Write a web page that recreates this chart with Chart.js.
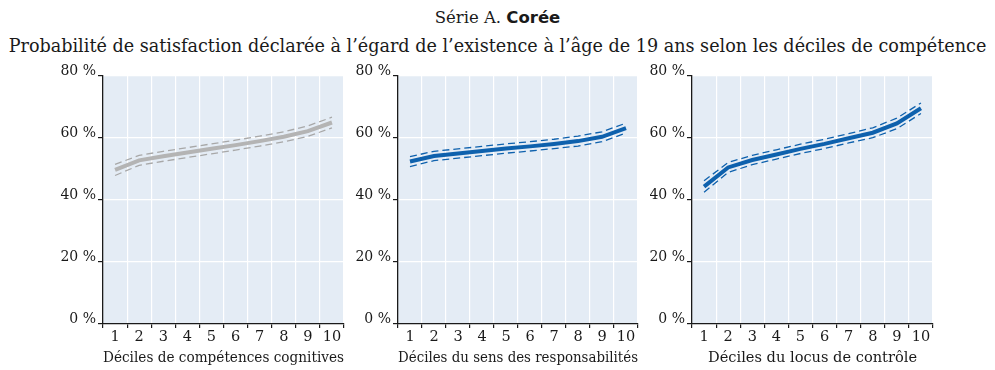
<!DOCTYPE html>
<html lang="fr">
<head>
<meta charset="utf-8">
<title>Série A. Corée</title>
<script src="https://cdn.jsdelivr.net/npm/chart.js@4/dist/chart.umd.min.js"></script>
<style>
  html, body { margin: 0; padding: 0; background: #fff; }
  body { width: 995px; height: 370px; position: relative; overflow: hidden; font-family: "DejaVu Serif", serif; color: #1a1a1a; }
  .serie { position: absolute; top: 8px; left: 0; width: 995px; text-align: center; font-size: 16.5px; }
  .serie b { font-family: "DejaVu Sans", sans-serif; }
  .titre { position: absolute; top: 36px; left: 0; width: 995px; text-align: center; font-size: 17.6px; white-space: nowrap; }
  .panel { position: absolute; top: 60px; height: 310px; }
</style>
</head>
<body>
<div class="serie">Série A. <b>Corée</b></div>
<div class="titre">Probabilité de satisfaction déclarée à l’égard de l’existence à l’âge de 19 ans selon les déciles de compétence</div>

<div class="panel" style="left:0;width:352px"><canvas id="cognitives"></canvas></div>
<div class="panel" style="left:350px;width:310px"><canvas id="responsabilites"></canvas></div>
<div class="panel" style="left:650px;width:345px"><canvas id="locus"></canvas></div>

<script>
// Déciles (axe des x) et graduations de l'axe des y
const deciles = ['1', '2', '3', '4', '5', '6', '7', '8', '9', '10'];
const yTicks = [0, 20, 40, 60, 80];

// Compétences cognitives : probabilité estimée et intervalle de confiance (%)
const cognitivesMoy = [49.7, 52.8, 54.1, 55.3, 56.5, 57.7, 59.0, 60.4, 62.2, 65.0];
const cognitivesHaut = [51.5, 54.4, 55.7, 56.9, 58.1, 59.3, 60.6, 62.0, 63.9, 66.7];
const cognitivesBas = [47.9, 51.2, 52.5, 53.7, 54.9, 56.1, 57.4, 58.8, 60.5, 63.3];

// Sens des responsabilités
const responsMoy = [52.4, 54.2, 55.0, 55.8, 56.6, 57.3, 58.1, 59.0, 60.4, 63.2];
const responsHaut = [54.0, 55.7, 56.5, 57.3, 58.1, 58.8, 59.6, 60.6, 62.0, 64.8];
const responsBas = [50.8, 52.7, 53.5, 54.3, 55.1, 55.8, 56.6, 57.4, 58.8, 61.6];

// Locus de contrôle
const locusMoy = [44.3, 50.5, 52.9, 54.7, 56.5, 58.1, 59.9, 61.7, 64.7, 69.6];
const locusHaut = [46.2, 52.1, 54.4, 56.2, 58.0, 59.6, 61.4, 63.3, 66.4, 71.3];
const locusBas = [42.5, 48.9, 51.4, 53.2, 55.0, 56.6, 58.4, 60.1, 63.0, 67.9];

const GRIS = '#b4b4b4';
const GRIS_TIRETS = '#a8a8a8';
const BLEU = '#0e61ad';
const FOND = '#e4ecf5';
const TEXTE = '#1a1a1a';
const POLICE = 'DejaVu Serif';

// fond bleu clair de la zone de tracé
const fondZone = {
  id: 'fondZone',
  beforeDraw(chart) {
    const a = chart.chartArea;
    const ctx = chart.ctx;
    ctx.save();
    ctx.fillStyle = FOND;
    ctx.fillRect(a.left, a.top, a.right - a.left, a.bottom - a.top);
    ctx.restore();
  }
};

function makePanel(id, titre, moy, haut, bas, couleur, couleurTirets, largeurY, margeDroite) {
  const dashed = (data) => ({
    data: data,
    borderColor: couleurTirets,
    borderWidth: 1.3,
    borderDash: [7, 4],
    pointRadius: 0,
    fill: false,
    tension: 0
  });
  new Chart(document.getElementById(id), {
    type: 'line',
    data: {
      labels: deciles,
      datasets: [
        dashed(haut),
        dashed(bas),
        {
          data: moy,
          borderColor: couleur,
          borderWidth: 4,
          pointRadius: 0,
          fill: false,
          tension: 0
        }
      ]
    },
    options: {
      responsive: true,
      maintainAspectRatio: false,
      animation: false,
      layout: { padding: { top: 16, right: margeDroite, bottom: 0, left: 0 } },
      plugins: {
        legend: { display: false },
        tooltip: { enabled: false }
      },
      scales: {
        x: {
          offset: true,
          grid: { offset: true, color: '#ffffff', lineWidth: 1.2, tickColor: TEXTE, tickLength: 4 },
          border: { color: TEXTE, width: 1.3 },
          ticks: { color: TEXTE, font: { family: POLICE, size: 14.5 }, padding: 1, maxRotation: 0, autoSkip: false },
          title: { display: true, text: titre, color: TEXTE, font: { family: POLICE, size: 14.6 }, padding: { top: 0, bottom: 3 } },
          afterFit(scale) { scale.height = 46; }
        },
        y: {
          min: 0,
          max: 80,
          afterBuildTicks(scale) { scale.ticks = yTicks.map(v => ({ value: v })); },
          grid: { color: '#ffffff', lineWidth: 1.2, tickColor: TEXTE, tickLength: 5 },
          border: { color: TEXTE, width: 1.3 },
          ticks: {
            color: TEXTE,
            font: { family: POLICE, size: 14 },
            padding: 2,
            labelOffset: -5,
            callback: (v) => v + ' %'
          },
          afterFit(scale) { scale.width = largeurY; }
        }
      }
    },
    plugins: [fondZone]
  });
}

makePanel('cognitives', 'Déciles de compétences cognitives', cognitivesMoy, cognitivesHaut, cognitivesBas, GRIS, GRIS_TIRETS, 103, 8);
makePanel('responsabilites', 'Déciles du sens des responsabilités', responsMoy, responsHaut, responsBas, BLEU, BLEU, 48, 22);
makePanel('locus', 'Déciles du locus de contrôle', locusMoy, locusHaut, locusBas, BLEU, BLEU, 42, 62);
</script>
</body>
</html>
